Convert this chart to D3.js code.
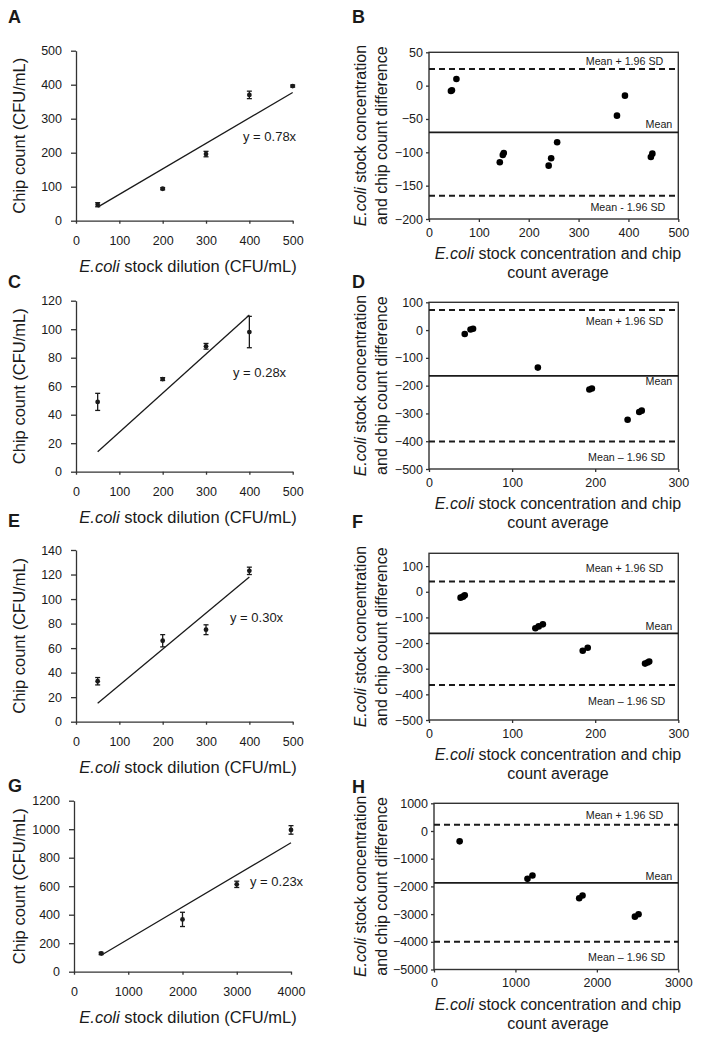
<!DOCTYPE html>
<html><head><meta charset="utf-8">
<script src="https://cdn.jsdelivr.net/npm/d3@7"></script>
<style>
body{margin:0;background:#fff;}
svg text{font-family:"Liberation Sans",Arial,Helvetica,sans-serif;fill:#1a1a1a;}
</style></head><body>
<svg id="c" width="703" height="1041"></svg>
<script>
// ---------- DATA ----------
// Panel A
const dilutionA = [50, 200, 300, 400, 500];
const chipA = [47, 94, 196, 370, 396];
const errA = [6, 3, 8, 11, 3];
const fitA = [[50, 40], [500, 377]];
const eqA = "y = 0.78x";
const xTicksA = [0, 100, 200, 300, 400, 500];
const yTicksA = [0, 100, 200, 300, 400, 500];
// Panel C
const dilutionC = [50, 200, 300, 400];
const chipC = [49, 65, 88, 98];
const errC = [6, 1, 2, 11];
const fitC = [[50, 14], [400, 110]];
const eqC = "y = 0.28x";
const xTicksC = [0, 100, 200, 300, 400, 500];
const yTicksC = [0, 20, 40, 60, 80, 100, 120];
// Panel E
const dilutionE = [50, 200, 300, 400];
const chipE = [33, 66, 75, 123];
const errE = [3, 5, 4, 3];
const fitE = [[50, 15], [400, 118]];
const eqE = "y = 0.30x";
const xTicksE = [0, 100, 200, 300, 400, 500];
const yTicksE = [0, 20, 40, 60, 80, 100, 120, 140];
// Panel G
const dilutionG = [500, 2000, 3000, 4000];
const chipG = [128, 367, 613, 995];
const errG = [8, 50, 22, 30];
const fitG = [[500, 115], [4000, 905]];
const eqG = "y = 0.23x";
const xTicksG = [0, 1000, 2000, 3000, 4000];
const yTicksG = [0, 200, 400, 600, 800, 1000, 1200];

// Panel B (Bland-Altman)
const avgB = [44, 46, 55, 142, 148, 150, 240, 245, 257, 377, 393, 445, 448];
const diffB = [-8, -7, 10, -115, -104, -101, -120, -109, -85, -45, -15, -107, -102];
const meanB = -70, upperB = 25, lowerB = -165;
const xTicksB = [0, 100, 200, 300, 400, 500];
const yTicksB = [50, 0, -50, -100, -150, -200];
// Panel D
const avgD = [43, 50, 53, 131, 193, 196, 239, 253, 256];
const diffD = [-14, 2, 5, -135, -214, -210, -323, -295, -290];
const meanD = -165, upperD = 72, lowerD = -401;
const xTicksD = [0, 100, 200, 300];
const yTicksD = [100, 0, -100, -200, -300, -400, -500];
// Panel F
const avgF = [38, 41, 43, 128, 132, 137, 185, 191, 260, 263, 265];
const diffF = [-23, -19, -14, -142, -135, -127, -230, -218, -280, -276, -272];
const meanF = -162, upperF = 40, lowerF = -364;
const xTicksF = [0, 100, 200, 300];
const yTicksF = [100, 0, -100, -200, -300, -400, -500];
// Panel H
const avgH = [315, 1148, 1209, 1783, 1824, 2467, 2512];
const diffH = [-374, -1727, -1606, -2427, -2331, -3092, -3007];
const meanH = -1872, upperH = 229, lowerH = -3998;
const xTicksH = [0, 1000, 2000, 3000];
const yTicksH = [1000, 0, -1000, -2000, -3000, -4000, -5000];

const upperLabel = "Mean + 1.96 SD";
const meanLabel = "Mean";
const lowerLabelB = "Mean - 1.96 SD";
const lowerLabel = "Mean \u2013 1.96 SD";

// ---------- DRAWING ----------
const svg = d3.select("#c");
const INK = "#1a1a1a";
const TICK_FS = "12.5px";

function italicTitle(sel, rest) {
  sel.append("tspan").attr("font-style", "italic").text("E.coli");
  sel.append("tspan").text(rest);
}

function drawLeft(p) {
  const x = d3.scaleLinear().domain([p.xTicks[0], p.xTicks[p.xTicks.length - 1]]).range([p.x0, p.x1]);
  const y = d3.scaleLinear().domain([p.yTicks[0], p.yTicks[p.yTicks.length - 1]]).range([p.yBot, p.yTop]);
  const g = svg.append("g");
  const ya = g.append("g").attr("transform", `translate(${p.x0},0)`)
    .call(d3.axisLeft(y).tickValues(p.yTicks).tickSize(5).tickSizeOuter(0).tickPadding(9).tickFormat(d3.format("d")));
  const xa = g.append("g").attr("transform", `translate(0,${p.yBot})`)
    .call(d3.axisBottom(x).tickValues(p.xTicks).tickSize(3).tickSizeOuter(0).tickPadding(12).tickFormat(d3.format("d")));
  [ya, xa].forEach(a => {
    a.selectAll("path,line").attr("stroke", "#333").attr("stroke-width", 1.3);
    a.selectAll("text").attr("font-size", TICK_FS).attr("fill", INK).attr("font-family", '"Liberation Sans",Arial,sans-serif');
  });
  // fit line
  g.append("line")
    .attr("x1", x(p.fit[0][0])).attr("y1", y(p.fit[0][1]))
    .attr("x2", x(p.fit[1][0])).attr("y2", y(p.fit[1][1]))
    .attr("stroke", INK).attr("stroke-width", 1.3);
  const pts = p.xs.map((v, i) => ({x: v, y: p.ys[i], e: p.es[i]}));
  // error bars
  const eb = g.selectAll(".eb").data(pts).enter().append("g");
  eb.append("line").attr("x1", d => x(d.x)).attr("x2", d => x(d.x))
    .attr("y1", d => y(d.y - d.e)).attr("y2", d => y(d.y + d.e)).attr("stroke", INK).attr("stroke-width", 1.3);
  eb.append("line").attr("x1", d => x(d.x) - 2.5).attr("x2", d => x(d.x) + 2.5)
    .attr("y1", d => y(d.y - d.e)).attr("y2", d => y(d.y - d.e)).attr("stroke", INK).attr("stroke-width", 1.3);
  eb.append("line").attr("x1", d => x(d.x) - 2.5).attr("x2", d => x(d.x) + 2.5)
    .attr("y1", d => y(d.y + d.e)).attr("y2", d => y(d.y + d.e)).attr("stroke", INK).attr("stroke-width", 1.3);
  g.selectAll(".pt").data(pts).enter().append("circle")
    .attr("cx", d => x(d.x)).attr("cy", d => y(d.y)).attr("r", 2.4).attr("fill", INK);
  // equation
  g.append("text").attr("x", p.eqPos[0]).attr("y", p.eqPos[1]).attr("font-size", "13px").text(p.eq);
  // axis titles
  g.append("text").attr("transform", `translate(25,${(p.yTop + p.yBot) / 2}) rotate(-90)`)
    .attr("text-anchor", "middle").attr("font-size", "16.5px").text("Chip count (CFU/mL)");
  italicTitle(g.append("text").attr("x", 188).attr("y", p.yBot + 51).attr("text-anchor", "middle").attr("font-size", "16.5px"),
    " stock dilution (CFU/mL)");
  // panel letter
  g.append("text").attr("x", 8).attr("y", p.letterY).attr("font-size", "18px").attr("font-weight", "bold").text(p.letter);
}

function drawRight(p) {
  const x = d3.scaleLinear().domain([p.xTicks[0], p.xTicks[p.xTicks.length - 1]]).range([p.x0, p.x1]);
  const y = d3.scaleLinear().domain([p.yMin, p.yMax]).range([p.yBot, p.yTop]);
  const g = svg.append("g");
  const ya = g.append("g").attr("transform", `translate(${p.x0},0)`)
    .call(d3.axisLeft(y).tickValues(p.yTicks).tickSize(3).tickSizeOuter(0).tickPadding(3).tickFormat(d3.format("d")));
  const xa = g.append("g").attr("transform", `translate(0,${p.yBot})`)
    .call(d3.axisBottom(x).tickValues(p.xTicks).tickSize(3).tickSizeOuter(0).tickPadding(6).tickFormat(d3.format("d")));
  [ya, xa].forEach(a => {
    a.select("path").remove();
    a.selectAll("line").attr("stroke", "#333").attr("stroke-width", 1.3);
    a.selectAll("text").attr("font-size", TICK_FS).attr("fill", INK).attr("font-family", '"Liberation Sans",Arial,sans-serif');
  });
  g.append("rect").attr("x", p.x0).attr("y", p.yTop).attr("width", p.x1 - p.x0).attr("height", p.yBot - p.yTop)
    .attr("fill", "none").attr("stroke", "#333").attr("stroke-width", 1.4);
  // reference lines
  [[p.upper, "6,4"], [p.lower, "6,4"]].forEach(([v, da]) => {
    g.append("line").attr("x1", p.x0).attr("x2", p.x1).attr("y1", y(v)).attr("y2", y(v))
      .attr("stroke", INK).attr("stroke-width", 2).attr("stroke-dasharray", da);
  });
  g.append("line").attr("x1", p.x0).attr("x2", p.x1).attr("y1", y(p.mean)).attr("y2", y(p.mean))
    .attr("stroke", INK).attr("stroke-width", 1.8);
  // labels
  g.append("text").attr("x", p.x1 - 15).attr("y", y(p.upper) + p.offs[0]).attr("text-anchor", "end").attr("font-size", "10.7px").text(upperLabel);
  g.append("text").attr("x", p.x1 - 6).attr("y", y(p.mean) + p.offs[1]).attr("text-anchor", "end").attr("font-size", "10.7px").text(meanLabel);
  g.append("text").attr("x", p.x1 - 13).attr("y", y(p.lower) + p.offs[2]).attr("text-anchor", "end").attr("font-size", "10.7px").text(p.lowerLabel);
  // points
  const pts = p.xs.map((v, i) => ({x: v, y: p.ys[i]}));
  g.selectAll(".pt").data(pts).enter().append("circle")
    .attr("cx", d => x(d.x)).attr("cy", d => y(d.y)).attr("r", 3.3).attr("fill", "#000");
  // titles
  const yc = (p.yTop + p.yBot) / 2;
  const yt = g.append("g").attr("transform", `translate(0,${yc})`);
  italicTitle(yt.append("text").attr("transform", "translate(366,0) rotate(-90)").attr("text-anchor", "middle").attr("font-size", "16px"),
    " stock concentration");
  yt.append("text").attr("transform", "translate(387,0) rotate(-90)").attr("text-anchor", "middle").attr("font-size", "16px")
    .text("and chip count difference");
  italicTitle(g.append("text").attr("x", 558).attr("y", p.yBot + 40).attr("text-anchor", "middle").attr("font-size", "16px"),
    " stock concentration and chip");
  g.append("text").attr("x", 558).attr("y", p.yBot + 59).attr("text-anchor", "middle").attr("font-size", "16px").text("count average");
  g.append("text").attr("x", 352).attr("y", p.letterY).attr("font-size", "18px").attr("font-weight", "bold").text(p.letter);
}

drawLeft({letter: "A", letterY: 22.5, xs: dilutionA, ys: chipA, es: errA, fit: fitA, eq: eqA, xTicks: xTicksA, yTicks: yTicksA,
  x0: 76, x1: 292.7, yTop: 50.7, yBot: 220.7, eqPos: [243, 141]});
drawLeft({letter: "C", letterY: 288, xs: dilutionC, ys: chipC, es: errC, fit: fitC, eq: eqC, xTicks: xTicksC, yTicks: yTicksC,
  x0: 76, x1: 292.7, yTop: 300.7, yBot: 471.7, eqPos: [233, 377]});
drawLeft({letter: "E", letterY: 527, xs: dilutionE, ys: chipE, es: errE, fit: fitE, eq: eqE, xTicks: xTicksE, yTicks: yTicksE,
  x0: 76, x1: 292.7, yTop: 550, yBot: 721.7, eqPos: [230, 622]});
drawLeft({letter: "G", letterY: 792, xs: dilutionG, ys: chipG, es: errG, fit: fitG, eq: eqG, xTicks: xTicksG, yTicks: yTicksG,
  x0: 74, x1: 291, yTop: 800.7, yBot: 971.7, eqPos: [250, 886]});

drawRight({letter: "B", letterY: 22.5, xs: avgB, ys: diffB, mean: meanB, upper: upperB, lower: lowerB, lowerLabel: lowerLabelB,
  xTicks: xTicksB, yTicks: yTicksB, yMin: -200, yMax: 50, x0: 429, x1: 678.3, yTop: 52.3, yBot: 219, offs: [-4, -4, 15]});
drawRight({letter: "D", letterY: 288, xs: avgD, ys: diffD, mean: meanD, upper: upperD, lower: lowerD, lowerLabel: lowerLabel,
  xTicks: xTicksD, yTicks: yTicksD, yMin: -500, yMax: 100, x0: 429, x1: 678.3, yTop: 302.3, yBot: 469, offs: [15, 9.5, 20]});
drawRight({letter: "F", letterY: 527.5, xs: avgF, ys: diffF, mean: meanF, upper: upperF, lower: lowerF, lowerLabel: lowerLabel,
  xTicks: xTicksF, yTicks: yTicksF, yMin: -500, yMax: 150, x0: 429, x1: 678.3, yTop: 553.3, yBot: 720, offs: [-10, -3.5, 20]});
drawRight({letter: "H", letterY: 793, xs: avgH, ys: diffH, mean: meanH, upper: upperH, lower: lowerH, lowerLabel: lowerLabel,
  xTicks: xTicksH, yTicks: yTicksH, yMin: -5000, yMax: 1000, x0: 434, x1: 678.3, yTop: 803.3, yBot: 969.5, offs: [-6, -3, 19]});
</script>
</body></html>
